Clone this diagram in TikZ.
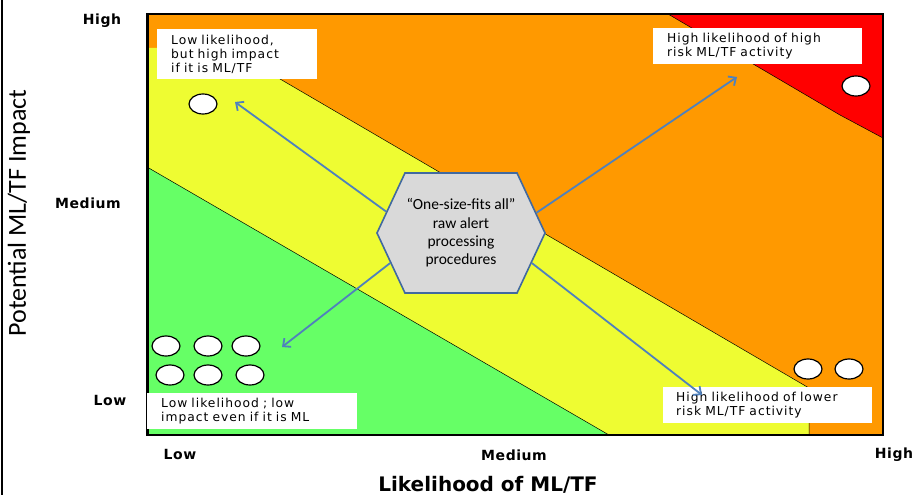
\documentclass[tikz,border=0pt]{standalone}
\usepackage{fontspec}
\setmainfont{DejaVu Sans}
\newfontfamily\calfont{Carlito}
\newfontfamily\boxfont[LetterSpace=8]{DejaVu Sans}
\newfontfamily\tickfont[LetterSpace=4]{DejaVu Sans}
\usetikzlibrary{arrows.meta,shapes.symbols,shapes.geometric}
\definecolor{orng}{RGB}{255,153,0}
\definecolor{ylw}{RGB}{238,252,50}
\definecolor{grn}{RGB}{102,255,102}
\definecolor{rd}{RGB}{255,0,0}
\definecolor{hexgray}{RGB}{217,217,217}
\definecolor{hexblue}{RGB}{65,105,160}
\definecolor{arrblue}{RGB}{79,129,189}
\begin{document}
\begin{tikzpicture}[x=1pt,y=-1pt,
  zone/.style={draw=black,line width=0.5pt},
  dot/.style={ellipse,draw=black,line width=1.2pt,fill=white,minimum width=28pt,minimum height=20pt,inner sep=0pt},
  note/.style={fill=white,anchor=north west,align=left,inner xsep=14pt,inner ysep=0pt,
    font=\boxfont\fontsize{12.3}{14}\selectfont},
  tick/.style={font=\tickfont\bfseries\fontsize{14}{16}\selectfont},
  hexa/.style={signal,signal to=east and west,signal pointer angle=130,draw=hexblue,line width=1.6pt,
    fill=hexgray,minimum width=168pt,minimum height=120pt,inner sep=0pt,align=center,
    font=\calfont\fontsize{15.5}{18.4}\selectfont},
  arr/.style={draw=arrblue,line width=1.8pt,-{Straight Barb[length=6pt,width=11pt]}}]
\useasboundingbox (0,0) rectangle (917,495);
\fill[white] (0,0) rectangle (917,495);
% left outer line
\draw[black,line width=2pt] (2,0) -- (2,495);
% zones
\fill[orng] (147,14) rectangle (883,435);
\fill[ylw] (147,48) -- (227,48) -- (809,388) -- (809,435) -- (147,435) -- cycle;
\draw[zone] (227,48) -- (809,388) -- (809,435);
\fill[grn] (147,167) -- (609,435) -- (147,435) -- cycle;
\draw[zone] (147,167) -- (609,435);
\fill[rd] (668,14) -- (840,115) -- (883,138) -- (883,14) -- cycle;
\draw[zone] (668,14) -- (840,115) -- (883,138);
% frame
\draw[black,line width=1.8pt] (147,14) rectangle (883,435);
\draw[black,line width=3pt] (147,14) -- (147,435);
% notes
\node[note,text width=132pt,minimum height=50pt] (nTL) at (157,29) {Low likelihood,\\but high impact\\if it is ML/TF};
\node[note,text width=181pt,minimum height=36pt] (nTR) at (653,28) {High likelihood of high\\risk ML/TF activity};
\node[note,text width=182pt,minimum height=36pt] (nBL) at (147,393) {Low likelihood ; low\\impact even if it is ML};
\node[note,text width=183pt,minimum height=36pt,inner xsep=13pt] (nBR) at (663,387) {High likelihood of lower\\risk ML/TF activity};
% dots
\node[dot] (d1) at (203,104) {};
\node[dot] (d2) at (856,86) {};
\node[dot] (d3) at (166,346) {};
\node[dot] (d4) at (208,346) {};
\node[dot] (d5) at (246,346) {};
\node[dot] (d6) at (170,375) {};
\node[dot] (d7) at (208,375) {};
\node[dot] (d8) at (250,375) {};
\node[dot] (d9) at (808,369) {};
\node[dot] (d10) at (849,369) {};
% hexagon
\node[hexa] (hex) at (461,233) {“One-size-fits all”\\raw alert\\processing\\procedures};
% arrow targets
\coordinate (tTL) at (235,102);
\coordinate (tTR) at (737,77);
\coordinate (tBL) at (282,347);
\coordinate (tBR) at (702,395);
\draw[arr] (hex.164.6) -- (tTL);
\draw[arr] (hex.15.4) -- (tTR);
\draw[arr] (hex.203.5) -- (tBL);
\draw[arr] (hex.337) -- (tBR);
% axis ticks
\node[tick] (yH) at (102,21) {High};
\node[tick] (yM) at (88,203) {Medium};
\node[tick] (yL) at (110,400) {Low};
\node[tick] (xL) at (180,454) {Low};
\node[tick] (xM) at (514,455) {Medium};
\node[tick] (xH) at (894,455) {High};
% axis titles
\node[font=\bfseries\fontsize{20}{22}\selectfont] (xt) at (488,485) {Likelihood of ML/TF};
\node[rotate=90,font=\calfont\fontsize{26}{30}\selectfont] (yt) at (19,213) {Potential ML/TF Impact};
\end{tikzpicture}
\end{document}
